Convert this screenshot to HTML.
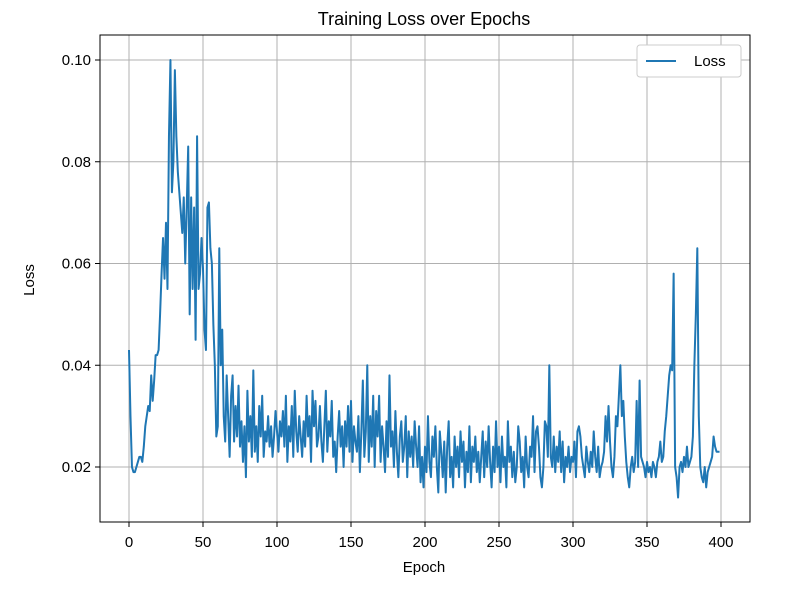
<!DOCTYPE html>
<html><head><meta charset="utf-8"><style>
body{margin:0;background:#fff;}
svg text{font-family:"Liberation Sans","DejaVu Sans",sans-serif;fill:#000;}
</style></head><body>
<svg id="chart" width="789" height="586" xmlns="http://www.w3.org/2000/svg">
<text x="424" y="25" font-size="18" text-anchor="middle">Training Loss over Epochs</text>
<g id="grid"></g>
<g id="ticks"></g>
<polyline id="line" fill="none" stroke="#1f77b4" stroke-width="2" stroke-linejoin="round"/>
<rect x="100" y="35" width="650" height="487" fill="none" stroke="#000" stroke-width="1"/>
<text x="424" y="572" font-size="15" text-anchor="middle">Epoch</text>
<text x="34" y="280" font-size="15" text-anchor="middle" transform="rotate(-90 34 280)">Loss</text>
<g>
<rect x="637" y="45" width="104" height="32" rx="3" fill="#fff" stroke="#ccc"/>
<line x1="646" y1="61" x2="676" y2="61" stroke="#1f77b4" stroke-width="2"/>
<text x="694" y="66" font-size="15">Loss</text>
</g>
</svg>
<script>
const xTicks=[0,50,100,150,200,250,300,350,400];
const yTicks=[0.02,0.04,0.06,0.08,0.10];
const yTickLabels=["0.02","0.04","0.06","0.08","0.10"];
const loss=[
.043,.030,.020,.019,.019,.020,.021,.022,.022,.021,
.024,.028,.030,.032,.031,.038,.033,.037,.042,.042,
.043,.050,.058,.065,.057,.068,.055,.085,.100,.074,
.080,.098,.085,.078,.074,.070,.066,.073,.060,.071,
.083,.050,.073,.055,.071,.045,.085,.055,.058,.065,
.059,.047,.043,.071,.072,.063,.060,.048,.040,.026,
.028,.063,.040,.047,.030,.025,.038,.030,.022,.034,
.038,.025,.032,.026,.036,.024,.029,.021,.028,.018,
.035,.025,.030,.022,.039,.023,.028,.021,.032,.026,
.034,.022,.027,.025,.030,.024,.028,.022,.026,.031,
.027,.023,.029,.026,.031,.024,.034,.021,.028,.025,
.032,.022,.035,.027,.023,.030,.026,.022,.029,.024,
.034,.026,.030,.021,.035,.028,.033,.024,.026,.032,
.025,.021,.028,.035,.023,.029,.026,.033,.022,.025,
.019,.026,.031,.024,.028,.020,.029,.024,.032,.023,
.033,.021,.028,.025,.023,.030,.019,.027,.037,.022,
.027,.040,.021,.030,.024,.034,.020,.031,.026,.034,
.021,.028,.024,.019,.029,.022,.038,.024,.027,.020,
.031,.023,.018,.026,.029,.021,.024,.030,.018,.027,
.022,.026,.020,.029,.024,.020,.028,.017,.022,.016,
.024,.019,.030,.021,.018,.026,.022,.028,.020,.015,
.027,.023,.018,.025,.015,.024,.029,.018,.022,.016,
.026,.020,.024,.018,.027,.021,.025,.016,.023,.019,
.028,.017,.024,.021,.026,.019,.023,.017,.022,.027,
.018,.025,.020,.028,.021,.016,.024,.019,.029,.020,
.024,.017,.026,.020,.022,.016,.029,.021,.024,.018,
.023,.017,.020,.028,.025,.019,.022,.016,.026,.020,
.018,.024,.022,.030,.019,.027,.028,.024,.018,.016,
.020,.029,.028,.022,.040,.022,.020,.026,.019,.024,
.021,.027,.019,.025,.017,.022,.020,.024,.019,.022,
.021,.025,.018,.027,.028,.026,.022,.020,.018,.024,
.021,.019,.023,.020,.027,.022,.019,.024,.018,.020,
.021,.023,.030,.025,.032,.025,.020,.018,.022,.030,
.028,.034,.040,.030,.033,.026,.021,.018,.016,.020,
.022,.019,.021,.033,.020,.037,.022,.021,.020,.018,
.021,.019,.020,.018,.021,.020,.018,.021,.022,.025,
.021,.022,.027,.030,.034,.038,.040,.039,.058,.020,
.018,.014,.020,.021,.019,.022,.020,.024,.020,.021,
.022,.026,.040,.050,.063,.030,.020,.018,.017,.020,
.016,.019,.020,.021,.022,.026,.024,.023,.023,.023];
const X=v=>129+(v/400)*592;
const Y=v=>467-(v-0.02)/0.08*407;
const NS="http://www.w3.org/2000/svg";
const grid=document.getElementById('grid'),ticks=document.getElementById('ticks');
function mk(tag,attrs,parent){const e=document.createElementNS(NS,tag);for(const k in attrs)e.setAttribute(k,attrs[k]);parent.appendChild(e);return e;}
xTicks.forEach(t=>{
 const g=mk('line',{x1:X(t),x2:X(t),y1:35,y2:522,stroke:'#b0b0b0','stroke-width':1},grid);
 
 
 const tk=mk('line',{x1:X(t),x2:X(t),y1:522,y2:527,stroke:'#000'},ticks);
 
 
 const tx=mk('text',{x:X(t),y:547,'font-size':15,'text-anchor':'middle'},ticks);
 tx.textContent=t;
 
 
});
yTicks.forEach((t,i)=>{
 const g=mk('line',{x1:100,x2:750,y1:Y(t),y2:Y(t),stroke:'#b0b0b0','stroke-width':1},grid);
 
 
 const tk=mk('line',{x1:95,x2:100,y1:Y(t),y2:Y(t),stroke:'#000'},ticks);
 
 
 const tx=mk('text',{x:91,y:Y(t)+5,'font-size':15,'text-anchor':'end'},ticks);
 tx.textContent=yTickLabels[i];
 
 
});
document.getElementById('line').setAttribute('points',loss.map((v,i)=>X(i).toFixed(2)+','+Y(v).toFixed(2)).join(' '));
</script>
</body></html>
